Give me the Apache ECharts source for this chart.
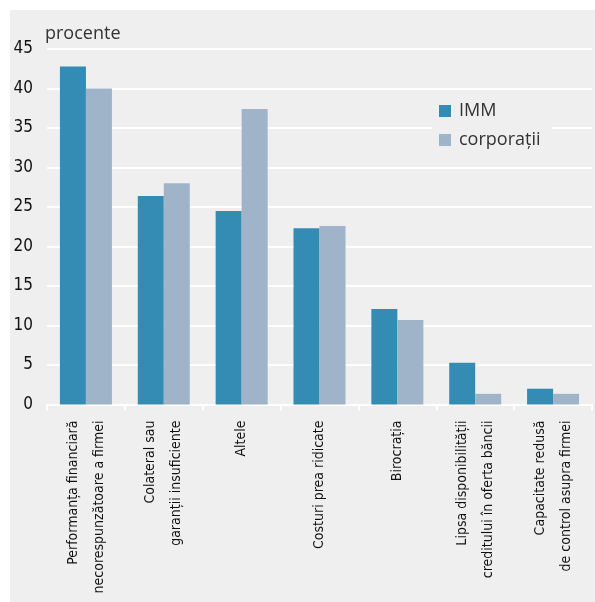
<!DOCTYPE html>
<html><head><meta charset="utf-8">
<script src="https://cdn.jsdelivr.net/npm/echarts@6/dist/echarts.min.js"></script>
<style>
html,body{margin:0;padding:0;background:#fff;width:595px;height:602px;overflow:hidden}
#c{position:absolute;left:10px;top:10px;width:585px;height:592px;background:#efefef}
</style></head>
<body><div id="c"></div>
<script>
const categories = [
  "Performanța financiară\nnecorespunzătoare a firmei",
  "Colateral sau\ngaranții insuficiente",
  "Altele",
  "Costuri prea ridicate",
  "Birocrația",
  "Lipsa disponibilității\ncreditului în oferta băncii",
  "Capacitate redusă\nde control asupra firmei"
];
const imm = [42.8, 26.4, 24.5, 22.3, 12.1, 5.3, 2.0];
const corporatii = [40.0, 28.0, 37.4, 22.6, 10.7, 1.35, 1.35];
const seriesNames = ["IMM", "corporații"];
const yMin = 0, yMax = 45, yStep = 5;

const condensed = "'Liberation Sans Narrow','DejaVu Sans Condensed','Roboto Condensed',sans-serif";
const chart = echarts.init(document.getElementById('c'), null, {renderer:'canvas'});
chart.setOption({
  backgroundColor: '#efefef',
  animation: false,
  grid: {left: 37, top: 39, right: 3, bottom: 197.5, containLabel: false, outerBoundsMode: 'none'},
  legend: {
    orient: 'vertical', left: 422, top: 85,
    padding: [7, 12, 7, 7],
    backgroundColor: '#efefef',
    itemWidth: 12, itemHeight: 12, itemGap: 11,
    icon: 'rect',
    textStyle: {fontFamily: "'Open Sans','Noto Sans',sans-serif", fontSize: 18, color: '#333', padding: [0,0,0,3]},
    data: seriesNames
  },
  graphic: [{
    type: 'text', left: 35, top: 15,
    style: {text: 'procente', fontFamily: "'Open Sans','Noto Sans',sans-serif", fontSize: 18, fill: '#333'}
  }],
  xAxis: {
    type: 'category', data: categories,
    axisLine: {show: true, lineStyle: {color: '#fff', width: 2}},
    axisTick: {show: true, length: 6, lineStyle: {color: '#fff', width: 2}, alignWithLabel: false},
    axisLabel: {rotate: 90, margin: 16, interval: 0, fontFamily: condensed, fontSize: 14, color: '#111', lineHeight: 26}
  },
  yAxis: {
    type: 'value', min: yMin, max: yMax, interval: yStep,
    axisLine: {show: false}, axisTick: {show: false},
    splitLine: {lineStyle: {color: '#fff', width: 2}},
    axisLabel: {margin: 14, fontFamily: condensed, fontSize: 17, color: '#111'}
  },
  series: [
    {name: seriesNames[0], type: 'bar', data: imm, barWidth: 26, barGap: '0%',
     itemStyle: {color: '#348cb4'}},
    {name: seriesNames[1], type: 'bar', data: corporatii, barWidth: 26, barGap: '0%',
     itemStyle: {color: '#9fb4c8'}}
  ]
});
</script></body></html>
